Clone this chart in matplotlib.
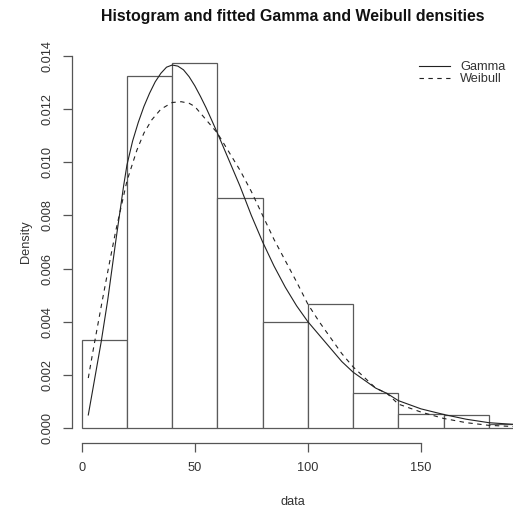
"""Histogram of the sample with fitted Gamma and Weibull density curves (R base-graphics look)."""

import matplotlib
matplotlib.use('Agg')
import matplotlib.pyplot as plt

plt.rcParams['font.family'] = ['Liberation Sans', 'DejaVu Sans']

# ── data ─────────────────────────────────────────────────────────────────────

bin_edges = [0, 20, 40, 60, 80, 100, 120, 140, 160, 180]
bin_width = 20
density   = [0.0033, 0.01325, 0.01372, 0.00866, 0.0040, 0.00465,
             0.00132, 0.00052, 0.00050, 0.00016]

gamma_x = [2.9, 5, 8.6, 11.5, 15, 18.5, 20, 22.5, 25, 27.5, 30, 32.5, 35,
           37.5, 40, 42.5, 45, 47.5, 50, 52.5, 55, 57.5, 60, 65, 70, 75, 80,
           85, 90, 95, 100, 105, 110, 115, 120, 125, 130, 135, 140, 150, 160,
           170, 180, 192]
gamma_y = [0.00049, 0.0015, 0.00324, 0.00482, 0.0070, 0.0091, 0.0099,
           0.0108, 0.0115, 0.0121, 0.0126, 0.01303, 0.01335, 0.01358,
           0.01366, 0.01362, 0.01348, 0.01322, 0.01288, 0.01248, 0.01205,
           0.01158, 0.0111, 0.0101, 0.0091, 0.0080, 0.0070, 0.0061, 0.0053,
           0.0046, 0.0040, 0.0035, 0.0030, 0.0025, 0.0021, 0.0018, 0.0015,
           0.0013, 0.00103, 0.00072, 0.00051, 0.00033, 0.00020, 0.00013]

weib_x = [2.9, 5.2, 9.1, 12, 15, 20, 24.4, 27.5, 31, 35, 40, 44, 47.5, 50,
          55, 60, 65, 70, 75, 80, 85, 90, 95, 100, 105, 110, 115, 120, 125,
          130, 135, 140, 150, 160, 170, 180, 192]
weib_y = [0.00188, 0.0030, 0.0048, 0.0061, 0.0074, 0.0093, 0.01046,
          0.0111, 0.0116, 0.0120, 0.01225, 0.01228, 0.01222, 0.0121, 0.0116,
          0.0111, 0.0104, 0.0097, 0.0089, 0.0080, 0.0071, 0.0063, 0.0055,
          0.00466, 0.0040, 0.0034, 0.0028, 0.0023, 0.0019, 0.0015, 0.0013,
          0.00090, 0.00060, 0.00036, 0.00020, 0.00010, 0.00005]

x_ticks = [0, 50, 100, 150]
y_ticks = [0.000, 0.002, 0.004, 0.006, 0.008, 0.010, 0.012, 0.014]

# ── plot ─────────────────────────────────────────────────────────────────────

W, H = 513, 508
fig = plt.figure(figsize=(W / 100, H / 100), dpi=100)
ax  = fig.add_axes([72 / W, (H - 443) / H, 1 - 72 / W, (443 - 41) / H])

ax.bar(bin_edges, density, width=bin_width, align='edge',
       facecolor='white', edgecolor='#5a5a5a', linewidth=0.9)
ax.plot(gamma_x, gamma_y, color='#222222', lw=0.8, label='Gamma')
ax.plot(weib_x, weib_y, color='#222222', lw=0.8, ls=(0, (4, 4)), label='Weibull')

ax.set_xlim(-4.3, 190.7)
ax.set_ylim(-0.000565, 0.014565)

for side in ('top', 'right'):
    ax.spines[side].set_visible(False)
ax.spines['left'].set_bounds(0, 0.014)
ax.spines['bottom'].set_bounds(0, 150)
for side in ('left', 'bottom'):
    ax.spines[side].set_color('#555555')
    ax.spines[side].set_linewidth(0.9)

ax.set_xticks(x_ticks)
ax.set_xticklabels([str(v) for v in x_ticks])
ax.set_yticks(y_ticks)
ax.set_yticklabels([f'{v:.3f}' for v in y_ticks], rotation=90, va='center')
ax.tick_params(length=6.5, width=0.9, color='#555555', labelsize=9.2,
               labelcolor='#333333', pad=7)

ax.set_xlabel('data', fontsize=9.2, color='#333333', labelpad=16)
ax.set_ylabel('Density', fontsize=9.2, color='#333333', labelpad=7)
fig.suptitle('Histogram and fitted Gamma and Weibull densities',
             x=(102 + 483) / 2 / W, y=1 - 17 / H, va='center',
             fontsize=11.4, fontweight='bold', color='#111111')

ax.legend(loc='upper right', bbox_to_anchor=(512 / W, 1 - 55 / H),
          bbox_transform=fig.transFigure, frameon=False, fontsize=9.2,
          handlelength=2.4, handletextpad=0.8, labelspacing=0.0,
          labelcolor='#333333', borderpad=0)

fig.savefig('out.png', dpi=100)
